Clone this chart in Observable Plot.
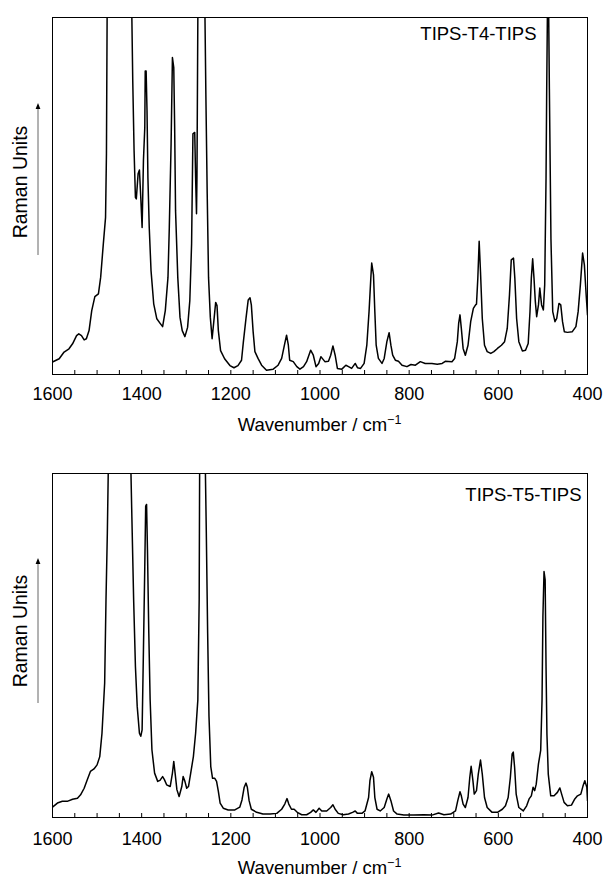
<!DOCTYPE html>
<html>
<head>
<meta charset="utf-8">
<script src="https://cdn.jsdelivr.net/npm/d3@7"></script>
<script src="https://cdn.jsdelivr.net/npm/@observablehq/plot@0.6"></script>
<style>
  body { margin: 0; background: #fff; }
  #chart { width: 606px; }
  #chart svg { display: block; }
</style>
</head>
<body>
<div id="chart"></div>
<script>
// ---- tick labels ----
const xTickLabels = [1600, 1400, 1200, 1000, 800, 600, 400];
const xMinorTicks = [1600, 1550, 1500, 1450, 1400, 1350, 1300, 1250, 1200, 1150, 1100, 1050, 1000,
                     950, 900, 850, 800, 750, 700, 650, 600, 550, 500, 450, 400];
const xTitle = "Wavenumber / cm";
const xTitleSup = "\u22121";
const yTitle = "Raman Units";

// ---- TIPS-T4-TIPS (% of panel height) ----
const t4Name = "TIPS-T4-TIPS";
const t4Wavenumber = [1600,1585,1574,1563,1555,1546,1541,1535,1529,1524,1518,1512,1505,1497,1492,1486,1481,1479,1477.5,1450,
  1422,1420,1417,1414,1412,1408,1405,1402,1399,1396,1393,1392,1390,1388,1386,1383,1379,1373,1366,1359,1353,1347,1341,1338,1334,
  1331,1328,1326,1324,1319,1314,1309,1303,1297,1292,1288,1285,1281,1279,1277,1276,1274,1266,1258,1256,1253,1250,1246,1242,1238,
  1234,1231,1228,1223,1214,1202,1193,1184,1176,1172,1166,1161,1157,1154,1150,1146,1139,1131,1120,1105,1094,1086,1079,1075,1071,
  1068,1060,1052,1045,1037,1030,1021,1015,1009,1003,998,989,981,976,971,966,961,951,942,936,929,921,916,909,901,895,890,886,884,
  880,877,874,869,861,856,850,845,841,837,831,824,816,805,796,786,775,764,749,737,726,719,704,698,692,689,686,683,679,674,668,
  662,656,651,649,646,643,640,636,631,625,617,610,602,593,586,580,575,571,566,563,559,554,546,539,533,529,526,523,520,517,514,
  510,507,503,499,496,493,491.5,490,488.5,487,485.5,482,478,473,469,464,460,456,452,445,434,426,421,416,411,407,403,400];
const t4Intensity = [3.5,4.4,6.3,7.2,8.6,10.9,11.4,10.9,9.7,10,12.3,17.9,21.8,22.6,27.2,36.6,44,61.8,100,400,
  100,82.3,62.7,49.6,49.2,56.2,57.3,49.6,41.2,60,69.2,85,85,73.9,55.2,41.2,29.1,19.8,15.6,14.4,13.4,17.9,27.2,41.2,64.6,
  88.8,86,69.2,45.9,27.2,16,12.3,10.6,13.2,20.7,36.6,67.4,67.8,55.2,45,55.2,100,400,100,78.5,50.6,27.2,16,10,15.1,
  20.2,19.3,12.3,6.7,4.4,2.5,1.9,2.5,4,9,15.7,20.9,21.5,19.5,12,6.4,4.5,2.6,1.2,1.5,2.6,4.5,8.7,11,8.2,
  4,3.6,2.2,1.5,2.2,3.6,6.8,5.4,2.2,3.1,5,3.6,3.7,5.4,8,5.4,1.7,1.5,2.6,2.2,1.7,3.1,1.9,1.7,3.1,8.2,17.6,27,31.2,
  27.9,17.6,8.2,4.5,3.1,4.5,9.2,11.7,8.2,5.4,4,3.7,2.6,2.2,2.8,2.6,3.6,3.1,3.1,2.9,3.1,3.7,3.6,4.5,9.2,14.3,16.7,12.9,7.3,5.4,8.2,
  14.8,18.5,19.5,19.7,27,37.3,28.8,15.7,8.2,6.4,5.9,6.4,7.3,8.2,9.2,12.9,22.3,32.1,32.6,27,15.7,9.2,6.6,6.8,8.7,17.6,27,32.4,27,20.4,16.2,
  19.5,24.2,19.5,18.1,25.1,55,80,100,300,100,80,38,17.6,14.8,15.7,19.9,19.5,14.8,12,11.8,12,13.4,17.6,25.1,34,30.7,22.3,16.7];

// ---- TIPS-T5-TIPS ----
const t5Name = "TIPS-T5-TIPS";
const t5Wavenumber = [1600,1589,1578,1567,1555,1544,1537,1529,1522,1515,1507,1500,1494,1489,1483,1480,1477,1475,1450,
  1424,1422,1418,1414,1410,1405,1402,1399,1396,1393,1391,1389,1387,1384,1381,1377,1371,1364,1359,1353,1349,1344,1336,1331,
  1328,1325,1321,1316,1310,1307,1303,1299,1295,1290,1284,1279,1274,1271,1270,1263,1257,1255,1252,1249,1245,1241,1236,1232,
  1228,1224,1217,1206,1191,1180,1175,1170,1166,1163,1159,1154,1142,1128,1112,1097,1086,1079,1074,1070,1064,1058,1051,1041,
  1030,1021,1015,1009,1002,996,985,976,971,966,959,948,936,927,921,916,906,899,891,888,884,880,877,872,865,856,850,846,841,
  835,827,812,790,767,749,734,722,707,696,691,686,683,679,674,668,664,661,657,654,649,645,640,636,631,625,614,602,591,584,
  578,573,569,566.5,563.5,560,554,544,536.5,531,526,522,518.5,515,510,505,502,500,497.5,495,493,491,488,482.5,475,467.5,462,
  458,452.5,445,436,428.5,422.5,415,410,406,401.5,400];
const t5Intensity = [3,4.2,4.7,4.7,5.3,5.6,6.6,8.5,11,13.4,14.1,15.3,17.7,24.5,39.1,63.3,82.7,100,400,
  100,87.6,63.3,43.9,32.3,24.5,23.6,25.5,48.8,73,90.5,91,77.9,53.6,34.2,19.7,12.9,10.5,10.8,11.9,11,9.5,9,12.9,
  16.3,12.9,8.1,6.1,9,11.9,10.5,8.5,9,12.9,17.7,24.5,34.2,63.3,100,400,100,82.7,53.6,29.4,14.8,11.4,11.4,10.5,
  7.6,4.2,2.7,2.2,2.2,3,5.1,8.8,10,8.8,4.9,2.4,1.5,1,1,1.2,2.4,3.9,5.5,3.9,2.4,2.4,1.5,0.8,
  0.8,1.5,2.2,1.5,2.7,1.9,1.9,2.9,3.7,2.4,1.2,0.8,1,1.5,1.9,1.2,1.2,1.9,5.8,10.7,13.3,11.7,5.8,2.4,1.9,2.9,5.4,6.8,4.9,
  1.9,1,0.7,0.7,0.8,0.7,1.3,0.8,1,1.9,4.9,7.5,6.3,3.9,2.9,5.8,11.7,14.9,10.7,6.8,7.8,12.6,16.7,12.6,5.8,2.9,1.5,1.5,2.4,3.4,
  5.8,11.7,18.5,19,14.6,6.8,2.9,1.9,3.4,5.4,6.3,8.8,7.8,9.7,15.6,19.5,34,58.4,71.5,69.1,43.8,24.3,12.6,6.3,6.3,7.3,8.6,
  6.8,4.4,3.4,3.6,5.4,6.3,6.8,9.2,10.7,8.8,4.9];

const FONT = "'Liberation Sans', Arial, Helvetica, sans-serif";

function panel(opts) {
  const {wn, inten, name, height, marginTop, marginBottom, tickPadding,
         nameDx, nameDy, yLabelY, arrowTop, arrowBottom, titleY} = opts;
  const data = wn.map((w, i) => ({w, v: inten[i]}));
  const innerH = height - marginTop - marginBottom;
  const svg = Plot.plot({
    width: 606,
    height,
    marginLeft: 52,
    marginRight: 19,
    marginTop,
    marginBottom,
    style: {fontFamily: FONT, fontSize: "18px", color: "#000", background: "#fff", overflow: "visible"},
    x: {domain: [1600, 400]},
    y: {domain: [0, 100], axis: null},
    marks: [
      Plot.line(data, {x: "w", y: "v", stroke: "#000", strokeWidth: 1.5, clip: true}),
      Plot.ruleX(xMinorTicks, {insetTop: innerH - 4, stroke: "#000", strokeWidth: 1}),
      Plot.axisX(xTickLabels, {tickSize: 0, tickPadding, tickFormat: d => String(d), label: null, fontSize: 18}),
      Plot.frame({stroke: "#000", strokeWidth: 1}),
      Plot.text([name], {frameAnchor: "top-right", dx: nameDx, dy: nameDy, lineAnchor: "top", textAnchor: "end", fontSize: 18.5, fill: "#000"})
    ]
  });
  const s = d3.select(svg);
  s.append("text")
    .attr("transform", `translate(20,${yLabelY}) rotate(-90)`)
    .attr("text-anchor", "middle")
    .attr("dominant-baseline", "central")
    .attr("font-family", FONT)
    .attr("font-size", 19.5)
    .attr("fill", "#000")
    .text(yTitle);
  s.append("line")
    .attr("x1", 38).attr("x2", 38)
    .attr("y1", arrowBottom).attr("y2", arrowTop + 4)
    .attr("stroke", "#555").attr("stroke-width", 0.9);
  s.append("path")
    .attr("d", `M38,${arrowTop}L35.6,${arrowTop + 6}L40.4,${arrowTop + 6}Z`)
    .attr("fill", "#000");
  const t = s.append("text")
    .attr("x", 319.5).attr("y", titleY)
    .attr("text-anchor", "middle")
    .attr("font-family", FONT)
    .attr("font-size", 18.5)
    .attr("fill", "#000");
  t.append("tspan").text(xTitle);
  t.append("tspan").attr("font-size", 12.5).attr("dy", -7).text(xTitleSup);
  return svg;
}

const chart = document.getElementById("chart");
chart.appendChild(panel({
  wn: t4Wavenumber, inten: t4Intensity, name: t4Name,
  height: 440, marginTop: 17, marginBottom: 66, tickPadding: 13,
  nameDx: -51, nameDy: 9, yLabelY: 182, arrowTop: 103, arrowBottom: 255, titleY: 431
}));
chart.appendChild(panel({
  wn: t5Wavenumber, inten: t5Intensity, name: t5Name,
  height: 437, marginTop: 33, marginBottom: 60, tickPadding: 15,
  nameDx: -6, nameDy: 14, yLabelY: 191, arrowTop: 118, arrowBottom: 263, titleY: 434
}));
</script>
</body>
</html>
